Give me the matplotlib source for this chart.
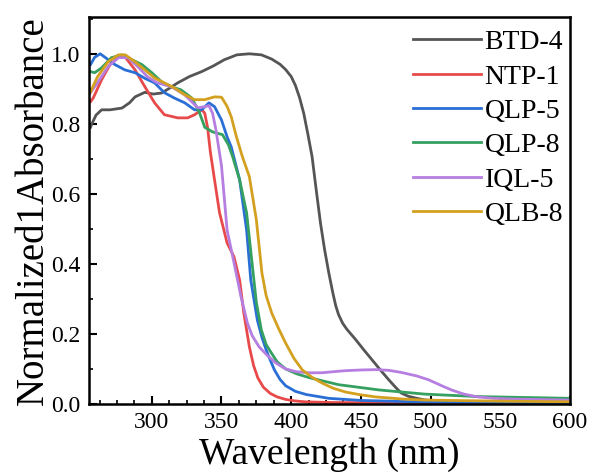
import numpy as np
from matplotlib import pyplot as plt
from matplotlib.ticker import MultipleLocator

# values (wavelength in nm, normalized absorbance)
btd4_x = [256, 257, 260, 264, 270, 278.6, 284, 288, 295, 301, 307, 312, 318.6, 327, 335.7, 344, 352, 361, 370,
          378.6, 386, 392, 396, 400, 403, 406, 409, 412, 415, 418, 421, 424, 427, 430, 432, 434, 437, 440, 446,
          452, 458, 464, 470, 475, 479, 484, 489, 495, 505, 520, 550, 600]
btd4_y = [0.79, 0.80, 0.825, 0.84, 0.84, 0.845, 0.86, 0.877, 0.89, 0.885, 0.888, 0.90, 0.917, 0.935, 0.949,
          0.965, 0.983, 0.997, 1.0, 0.997, 0.985, 0.97, 0.955, 0.935, 0.91, 0.875, 0.83, 0.77, 0.706, 0.61,
          0.517, 0.44, 0.374, 0.315, 0.28, 0.255, 0.23, 0.213, 0.185, 0.155, 0.126, 0.097, 0.069, 0.047, 0.031,
          0.022, 0.017, 0.012, 0.008, 0.006, 0.005, 0.004]

ntp1_x = [256, 258, 264, 270, 276, 281, 288, 295, 302, 309, 318.6, 325.7, 330.7, 334, 336, 338, 340, 342,
          345, 348.6, 354, 359, 363, 366, 370, 373, 376, 380, 385, 390, 396, 402, 410, 430, 500, 600]
ntp1_y = [0.863, 0.874, 0.926, 0.969, 0.99, 0.99, 0.954, 0.906, 0.86, 0.826, 0.817, 0.817, 0.826, 0.835,
          0.84, 0.83, 0.79, 0.72, 0.64, 0.546, 0.46, 0.42, 0.354, 0.26, 0.163, 0.11, 0.075, 0.048, 0.03,
          0.02, 0.013, 0.009, 0.006, 0.004, 0.003, 0.003]

qlp5_x = [256, 259, 263, 266.4, 273.6, 280.7, 288, 295, 302, 309, 316, 323.6, 330.7, 335.7, 341, 345, 350,
          354, 357, 363, 368, 371, 375.7, 379, 382, 385, 388, 392, 396, 403, 410.7, 427, 450, 500, 600]
qlp5_y = [0.969, 0.99, 1.0, 0.99, 0.969, 0.954, 0.946, 0.93, 0.917, 0.889, 0.874, 0.86, 0.84, 0.84, 0.86,
          0.849, 0.811, 0.763, 0.734, 0.64, 0.497, 0.354, 0.24, 0.19, 0.155, 0.125, 0.097, 0.07, 0.052, 0.036,
          0.027, 0.016, 0.01, 0.005, 0.003]

qlp8_x = [256, 259, 264, 271, 278.6, 285.7, 293, 300, 307, 314, 321, 328.6, 334, 338, 343.6, 350.7, 355,
          358, 363, 368, 372, 375, 378.6, 382, 385.7, 390, 396, 404, 413, 434, 463, 496, 534, 600]
qlp8_y = [0.949, 0.946, 0.96, 0.989, 0.997, 0.983, 0.969, 0.946, 0.92, 0.906, 0.897, 0.874, 0.834, 0.79,
          0.777, 0.769, 0.74, 0.706, 0.64, 0.546, 0.40, 0.29, 0.211, 0.17, 0.146, 0.12, 0.1, 0.086, 0.075,
          0.055, 0.04, 0.028, 0.021, 0.016]

iql5_x = [256, 261, 268.6, 276, 283, 290, 297, 304, 314, 323.6, 328.6, 333, 338, 341, 343.6, 346, 350, 354,
          359, 364, 368.6, 372, 377, 383, 389, 396, 403.6, 412, 422, 430, 439, 450, 460.7, 470, 479, 490,
          498.6, 508, 515, 524, 534, 545, 558, 600]
iql5_y = [0.889, 0.917, 0.963, 0.989, 0.989, 0.963, 0.934, 0.917, 0.906, 0.883, 0.863, 0.846, 0.849, 0.852,
          0.83, 0.783, 0.68, 0.497, 0.403, 0.306, 0.231, 0.195, 0.163, 0.138, 0.117, 0.1, 0.092, 0.089, 0.089,
          0.092, 0.095, 0.097, 0.098, 0.096, 0.09, 0.08, 0.069, 0.052, 0.04, 0.028, 0.02, 0.016, 0.014,
          0.011]

qlb8_x = [256, 261, 268.6, 276, 281, 288, 295, 302, 309, 316, 323.6, 330.7, 338, 345, 350, 354, 357, 360.7,
          365, 370, 375, 379, 382, 386, 391, 396, 402, 408, 415, 422, 430, 439, 450, 460.7, 480, 496, 550, 600]
qlb8_y = [0.891, 0.934, 0.977, 0.997, 0.997, 0.977, 0.954, 0.931, 0.917, 0.903, 0.883, 0.869, 0.869, 0.877,
          0.876, 0.85, 0.82, 0.763, 0.706, 0.649, 0.526, 0.374, 0.31, 0.26, 0.215, 0.174, 0.13, 0.097, 0.076,
          0.06, 0.045, 0.034, 0.026, 0.02, 0.014, 0.011, 0.008, 0.006]

names = ["BTD-4", "NTP-1", "QLP-5", "QLP-8", "IQL-5", "QLB-8"]
colors = ["#555555", "#e84a4a", "#2a6fd6", "#35a060", "#b57ee0", "#d4a020"]
series = [(btd4_x, btd4_y), (ntp1_x, ntp1_y), (qlp5_x, qlp5_y),
          (qlp8_x, qlp8_y), (iql5_x, iql5_y), (qlb8_x, qlb8_y)]

plt.rcParams['font.family'] = ['Liberation Serif', 'DejaVu Serif']

fig = plt.figure(figsize=(5.9, 4.73), dpi=100)
ax = fig.add_axes([0.151, 0.146, 0.815, 0.818])

for (x, y), name, c in zip(series, names, colors):
    ax.plot(x, y, color=c, lw=2.0, label=name, solid_joinstyle='round')

ax.set_xlim(255, 600)
ax.set_ylim(0, 1.105)
ax.xaxis.set_major_locator(MultipleLocator(50))
ax.xaxis.set_minor_locator(MultipleLocator(12.5))
ax.yaxis.set_major_locator(MultipleLocator(0.2))
ax.yaxis.set_minor_locator(MultipleLocator(0.1))
ax.set_xticks([300, 350, 400, 450, 500, 550, 600])
ax.tick_params(which='major', direction='in', length=6, width=1.5, labelsize=17, pad=6)
ax.tick_params(which='minor', direction='in', length=3, width=1.2)
ax.yaxis.set_major_formatter(plt.FuncFormatter(lambda v, p: f"{v:.1f}"))
for s in ax.spines.values():
    s.set_linewidth(1.8)

ax.set_xlabel("Wavelength (nm)", fontsize=27, labelpad=3)
ax.set_ylabel("Normalized1Absorbance", fontsize=28, labelpad=0)

ax.legend(loc='upper right', bbox_to_anchor=(1.0, 0.985), frameon=False, fontsize=20,
          handlelength=2.45, handletextpad=0.12, labelspacing=0.32, borderaxespad=0.0,
          borderpad=0.25)

fig.savefig("out.png", dpi=100)
